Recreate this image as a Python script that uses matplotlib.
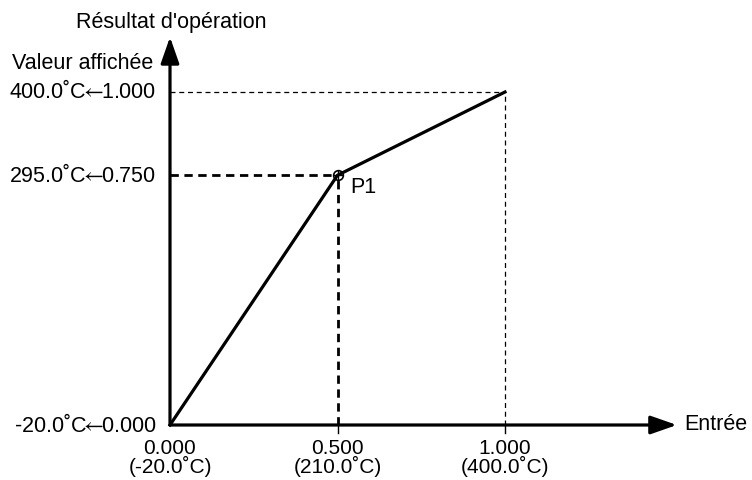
import matplotlib.pyplot as plt
from matplotlib.patches import FancyArrowPatch

plt.rcParams['font.family'] = ['Liberation Sans', 'DejaVu Sans']
plt.rcParams['mathtext.fontset'] = 'stixsans'

# data: input -> operation result, with break point P1
line_x = [0.0, 0.5, 1.0]
line_y = [0.0, 0.75, 1.0]
x_ticks = [0.0, 0.5, 1.0]
x_labels = ['0.000\n(-20.0˚C)', '0.500\n(210.0˚C)', '1.000\n(400.0˚C)']
y_ticks = [0.0, 0.75, 1.0]
arrow = r'$\!\!\leftarrow\!\!$'
y_labels = ['-20.0˚C' + arrow + '0.000', '295.0˚C' + arrow + '0.750', '400.0˚C' + arrow + '1.000']
p1 = (0.5, 0.75)

fig = plt.figure(figsize=(7.52, 4.8), dpi=100)
ax = fig.add_axes([0, 0, 1, 1])
# pixel mapping: origin at (170, 425), 335 px per unit in x, 333 in y
ax.set_xlim(-170 / 335, (752 - 170) / 335)
ax.set_ylim(-55 / 333, (480 - 55) / 333)
ax.axis('off')

fs = 15.5

# guide lines
ax.plot([0, 1], [1, 1], color='black', lw=0.9, ls=(0, (4, 3)))
ax.plot([1, 1], [0, 1], color='black', lw=0.9, ls=(0, (4, 3)))
ax.plot([0, p1[0]], [p1[1], p1[1]], color='black', lw=2, ls=(0, (3, 2)))
ax.plot([p1[0], p1[0]], [0, p1[1]], color='black', lw=2, ls=(0, (3, 2)))

# main curve
ax.plot(line_x, line_y, color='black', lw=2.3, solid_joinstyle='miter')
ax.plot([p1[0]], [p1[1]], marker='o', ms=7, mfc='none', mec='black', mew=1.2)
ax.plot([p1[0]], [p1[1]], marker='+', ms=7, color='black', mew=1)

# axes with arrows
head = '-|>,head_length=10,head_width=3.5'
ax.add_patch(FancyArrowPatch((0, 0), (1.513, 0), arrowstyle=head,
                             mutation_scale=1.6, lw=2.3, color='black', shrinkA=0, shrinkB=0))
ax.add_patch(FancyArrowPatch((0, 0), (0, 1.165), arrowstyle=head,
                             mutation_scale=1.6, lw=2.3, color='black', shrinkA=0, shrinkB=0))

# tick marks
for xt in x_ticks[1:]:
    ax.plot([xt, xt], [0, -0.025], color='black', lw=1)

for xt, lab in zip(x_ticks, x_labels):
    ax.text(xt, -0.041, lab, ha='center', va='top', fontsize=15, linespacing=0.88)
for yt, lab in zip(y_ticks, y_labels):
    ax.text(-0.04, yt, lab, ha='right', va='center', fontsize=fs)

ax.text(1.535, 0, 'Entrée', ha='left', va='center', fontsize=fs)
ax.text(0.537, 0.712, 'P1', ha='left', va='center', fontsize=fs)
ax.text(-0.05, 1.085, 'Valeur affichée', ha='right', va='center', fontsize=fs)
ax.text(0.005, 1.21, "Résultat d'opération", ha='center', va='center', fontsize=fs)

fig.savefig('out.png', dpi=100)
